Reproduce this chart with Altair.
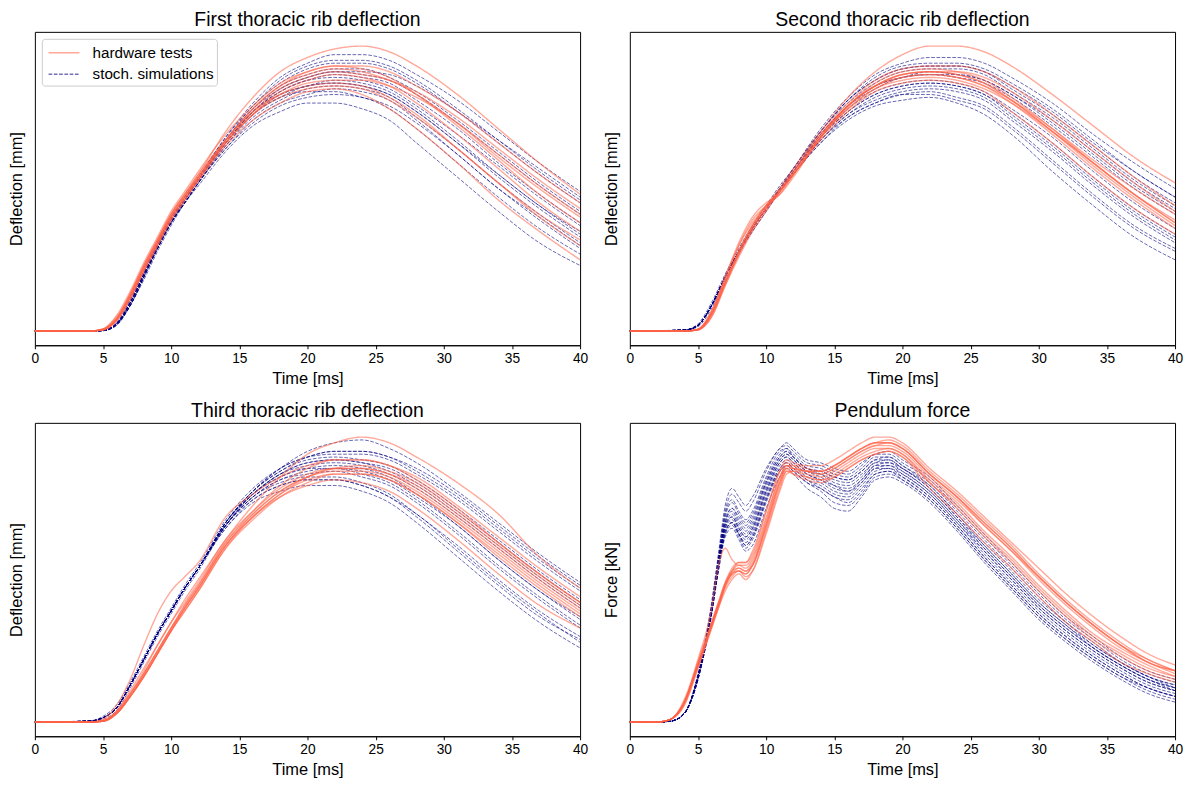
import altair as alt
import pandas as pd

# ---------------- data ----------------
GROUPS = ["hardware tests", "stoch. simulations"]

T_DEFL = [0, 4, 5, 6, 7, 8, 9, 10, 11, 12, 14, 16, 18, 20, 22, 24, 26, 28, 31, 34, 37, 40]
T_FORCE = [0, 2, 3, 4, 5, 6, 6.5, 7, 7.5, 8, 8.5, 9, 10, 11, 11.5, 12, 13, 14, 15, 16,
           17, 18, 19, 20, 22, 24, 26, 28, 30, 32, 34, 36, 38, 40]

P1_HW = [
    [0, 0, 0.6, 4.5, 13, 23, 32, 41, 48, 55, 70, 82, 91, 96, 99, 100, 98, 93, 83, 71, 59, 48],
    [0, 0, 0.5, 4, 12, 22, 31, 40, 47, 54, 67, 78, 86, 91, 93, 93, 91, 86, 77, 66, 55, 45],
    [0, 0, 0.5, 4, 12, 21, 30, 39, 46, 53, 66, 76, 84, 88, 90, 89, 86, 80, 69, 57, 45, 35],
    [0, 0, 0.7, 5, 13, 23, 32, 41, 48, 55, 67, 77, 83, 86, 87, 86, 82, 76, 64, 52, 40, 30],
    [0, 0, 0.5, 4, 12, 22, 31, 40, 47, 53, 65, 74, 80, 84, 85, 83, 78, 71, 59, 46, 35, 25],
    [0, 0, 0.4, 3.5, 11, 21, 30, 39, 46, 53, 66, 76, 83, 87, 88, 88, 86, 82, 73, 62, 51, 41],
    [0, 0, 0.8, 5.5, 14, 24, 33, 42, 49, 56, 69, 79, 87, 91, 93, 92, 89, 83, 72, 60, 48, 38],
    [0, 0, 0.5, 4, 12, 22, 31, 40, 47, 54, 67, 78, 86, 90, 92, 91, 88, 84, 75, 64, 53, 43],
    [0, 0, 0.6, 4.5, 13, 23, 32, 41, 48, 54, 67, 77, 85, 89, 91, 90, 88, 83, 73, 61, 50, 40],
    [0, 0, 0.5, 4, 12, 22, 31, 40, 47, 54, 66, 76, 82, 85, 86, 85, 81, 75, 64, 52, 41, 32],
]
P1_SIM = [
    [0, 0, 0.2, 2.5, 10, 20, 30, 39, 47, 54, 68, 80, 89, 94, 97, 97, 95, 90, 81, 70, 59, 49],
    [0, 0, 0.2, 2.8, 11, 21, 31, 40, 47, 54, 68, 79, 88, 93, 95, 95, 93, 88, 78, 67, 56, 46],
    [0, 0, 0.2, 2.5, 10, 20, 30, 39, 46, 53, 67, 78, 86, 90, 92, 92, 89, 84, 74, 63, 52, 42],
    [0, 0, 0.1, 2.2, 9, 19, 29, 38, 46, 53, 66, 77, 84, 88, 90, 89, 87, 81, 71, 59, 48, 38],
    [0, 0, 0.2, 2.5, 10, 20, 30, 38, 46, 53, 66, 76, 83, 86, 88, 87, 84, 78, 67, 55, 44, 34],
    [0, 0, 0.2, 2.5, 10, 20, 29, 38, 45, 52, 65, 75, 81, 85, 86, 85, 82, 75, 64, 52, 41, 31],
    [0, 0, 0.2, 2.5, 9, 19, 29, 38, 45, 52, 64, 73, 79, 82, 83, 82, 78, 71, 59, 47, 36, 27],
    [0, 0, 0.2, 2.5, 9, 19, 29, 38, 45, 51, 63, 72, 77, 80, 80, 78, 74, 66, 54, 42, 31, 23],
    [0, 0, 0.1, 2, 9, 19, 29, 38, 46, 53, 67, 78, 85, 89, 91, 91, 90, 86, 77, 67, 57, 47],
    [0, 0, 0.1, 2, 9, 18, 28, 37, 45, 52, 66, 77, 84, 88, 89, 88, 85, 79, 69, 58, 47, 37],
    [0, 0, 0.3, 3, 11, 21, 31, 40, 47, 54, 67, 77, 83, 86, 87, 86, 83, 77, 66, 55, 44, 35],
    [0, 0, 0.2, 2.5, 10, 20, 30, 39, 46, 53, 66, 76, 82, 84, 84, 82, 79, 73, 62, 50, 40, 30],
    [0, 0, 0.2, 2.5, 10, 20, 30, 39, 46, 53, 67, 79, 87, 92, 94, 94, 92, 87, 77, 66, 55, 45],
    [0, 0, 0.2, 2.5, 10, 20, 30, 39, 46, 53, 66, 77, 85, 89, 91, 90, 88, 83, 73, 62, 51, 41],
    [0, 0, 0.2, 2.5, 10, 20, 30, 38, 45, 52, 65, 76, 82, 86, 87, 86, 83, 77, 66, 54, 43, 33],
    [0, 0, 0.2, 2.5, 9, 19, 29, 38, 45, 52, 64, 74, 80, 83, 85, 84, 81, 74, 62, 50, 39, 29],
]

P2_HW = [
    [0, 0, 0.5, 6, 17, 27, 36, 43, 50, 57, 70, 82, 91, 97, 100, 100, 98, 93, 83, 72, 61, 52],
    [0, 0, 0.6, 7, 19, 31, 40, 45, 48, 54, 68, 79, 87, 91, 92, 91, 88, 82, 71, 59, 48, 39],
    [0, 0, 0.6, 7, 18, 30, 39, 44, 48, 55, 68, 78, 85, 89, 90, 89, 86, 80, 69, 57, 46, 36],
    [0, 0, 0.4, 5, 16, 27, 36, 43, 49, 55, 68, 79, 86, 90, 91, 90, 87, 81, 70, 59, 48, 38],
    [0, 0, 0.4, 5, 16, 26, 35, 42, 49, 55, 67, 77, 84, 87, 88, 87, 84, 77, 66, 54, 43, 34],
    [0, 0, 0.5, 6, 17, 27, 36, 43, 49, 56, 69, 80, 88, 92, 93, 93, 91, 86, 76, 65, 54, 44],
    [0, 0, 0.7, 7, 19, 30, 38, 44, 49, 55, 68, 79, 86, 90, 91, 90, 87, 81, 70, 58, 47, 37],
    [0, 0, 0.5, 6, 17, 28, 37, 44, 50, 56, 69, 79, 86, 89, 90, 89, 86, 81, 71, 60, 50, 41],
    [0, 0, 0.6, 6, 17, 28, 37, 44, 49, 55, 68, 78, 85, 88, 89, 88, 85, 80, 70, 59, 48, 38],
    [0, 0, 0.5, 6, 17, 28, 37, 43, 49, 55, 68, 79, 86, 90, 91, 91, 89, 84, 74, 63, 52, 42],
]
P2_SIM = [
    [0, 0.3, 2, 9, 19, 28, 36, 43, 50, 57, 71, 82, 90, 94, 96, 96, 94, 89, 80, 69, 59, 50],
    [0, 0.3, 2, 9, 19, 28, 36, 43, 50, 57, 70, 81, 89, 93, 94, 94, 92, 87, 78, 67, 56, 47],
    [0, 0.3, 2, 9, 19, 28, 36, 43, 50, 56, 70, 80, 87, 91, 92, 92, 90, 84, 75, 64, 53, 44],
    [0, 0.3, 2, 9, 19, 28, 36, 43, 50, 56, 69, 79, 85, 89, 90, 89, 87, 82, 72, 61, 50, 41],
    [0, 0.3, 2, 9, 19, 28, 36, 43, 49, 56, 68, 78, 84, 87, 88, 87, 84, 78, 68, 56, 45, 36],
    [0, 0.3, 2, 9, 19, 28, 36, 43, 49, 55, 67, 76, 82, 85, 86, 85, 82, 75, 64, 52, 41, 32],
    [0, 0.3, 2, 9, 19, 28, 36, 43, 49, 55, 66, 75, 80, 83, 84, 82, 79, 72, 60, 48, 37, 29],
    [0, 0.3, 2, 9, 19, 28, 35, 42, 49, 55, 66, 74, 79, 81, 82, 80, 76, 69, 56, 44, 33, 25],
    [0, 0.4, 2.5, 10, 20, 29, 37, 44, 51, 57, 70, 81, 88, 92, 93, 93, 91, 86, 77, 66, 56, 47],
    [0, 0.2, 1.5, 8, 18, 27, 35, 42, 49, 56, 69, 79, 86, 89, 90, 90, 88, 83, 74, 63, 52, 43],
    [0, 0.3, 2, 9, 19, 28, 36, 43, 50, 56, 68, 77, 83, 86, 87, 86, 83, 77, 66, 54, 43, 34],
    [0, 0.3, 2, 9, 19, 28, 36, 43, 49, 55, 67, 76, 81, 84, 85, 84, 81, 74, 63, 51, 40, 31],
    [0, 0.3, 2, 9, 19, 28, 36, 43, 50, 57, 70, 81, 88, 92, 93, 93, 91, 85, 76, 65, 54, 45],
    [0, 0.3, 2, 9, 19, 28, 36, 43, 50, 56, 69, 79, 86, 89, 91, 90, 88, 83, 73, 62, 51, 42],
    [0, 0.3, 2, 9, 19, 28, 36, 43, 49, 55, 68, 77, 83, 86, 87, 86, 83, 76, 65, 53, 42, 33],
    [0, 0.3, 2, 9, 19, 28, 36, 43, 49, 55, 67, 75, 80, 83, 83, 81, 78, 71, 59, 47, 36, 28],
]

P3_HW = [
    [0, 0, 0.5, 3.5, 10, 18, 27, 35, 43, 50, 64, 76, 86, 94, 98, 100, 98, 93, 84, 73, 58, 47],
    [0, 0, 1, 6, 15, 27, 38, 46, 51, 56, 72, 80, 86, 90, 92, 92, 90, 85, 75, 63, 52, 42],
    [0, 0, 0.3, 3, 9, 16, 24, 32, 40, 47, 62, 72, 80, 86, 89, 90, 88, 84, 74, 63, 52, 42],
    [0, 0, 0.3, 3, 9, 16, 24, 32, 39, 46, 61, 71, 79, 84, 87, 87, 85, 80, 70, 58, 47, 37],
    [0, 0, 0.3, 3, 9, 17, 25, 33, 40, 47, 62, 72, 79, 83, 85, 84, 81, 75, 64, 52, 41, 33],
    [0, 0, 0.4, 3.5, 10, 17, 25, 33, 41, 48, 63, 74, 83, 89, 92, 92, 90, 86, 76, 65, 54, 44],
    [0, 0, 0.6, 4, 11, 19, 27, 35, 42, 49, 64, 74, 82, 87, 89, 89, 87, 82, 72, 61, 50, 40],
    [0, 0, 0.3, 3, 9, 16, 24, 32, 40, 47, 62, 73, 81, 86, 88, 88, 86, 81, 71, 60, 49, 39],
    [0, 0, 0.4, 3.5, 10, 17, 25, 33, 41, 48, 63, 73, 81, 86, 89, 89, 87, 83, 73, 62, 51, 41],
    [0, 0, 0.3, 3, 9, 16, 24, 32, 39, 46, 61, 72, 80, 85, 87, 87, 85, 80, 70, 59, 48, 38],
]
P3_SIM = [
    [0, 0.3, 1.5, 5, 13, 22, 31, 39, 47, 54, 70, 81, 89, 95, 98, 99, 96, 91, 81, 70, 59, 49],
    [0, 0.3, 1.5, 5, 13, 22, 31, 39, 47, 54, 70, 81, 89, 93, 95, 95, 93, 88, 79, 68, 57, 47],
    [0, 0.3, 1.5, 5, 13, 22, 31, 39, 47, 54, 70, 81, 88, 92, 93, 92, 90, 85, 75, 64, 53, 43],
    [0, 0.3, 1.5, 5, 13, 22, 31, 39, 47, 54, 70, 80, 87, 90, 91, 90, 87, 82, 72, 61, 50, 40],
    [0, 0.3, 1.5, 5, 13, 22, 31, 39, 47, 54, 69, 80, 86, 89, 90, 89, 86, 80, 69, 57, 46, 37],
    [0, 0.3, 1.5, 5, 13, 22, 31, 39, 47, 54, 69, 79, 85, 87, 88, 86, 83, 77, 66, 54, 43, 33],
    [0, 0.3, 1.5, 5, 13, 22, 31, 39, 47, 54, 69, 78, 83, 85, 85, 83, 79, 72, 60, 48, 37, 29],
    [0, 0.3, 1.5, 5, 13, 22, 31, 39, 47, 54, 68, 77, 81, 83, 83, 81, 77, 70, 58, 46, 35, 26],
    [0, 0.4, 2, 6, 14, 23, 32, 40, 48, 55, 71, 82, 89, 93, 94, 94, 92, 87, 78, 67, 56, 46],
    [0, 0.2, 1, 4, 12, 21, 30, 38, 46, 53, 69, 80, 87, 91, 92, 91, 89, 84, 74, 63, 52, 42],
    [0, 0.3, 1.5, 5, 13, 22, 31, 39, 47, 54, 70, 80, 86, 89, 89, 88, 85, 79, 69, 57, 46, 36],
    [0, 0.3, 1.5, 5, 13, 22, 31, 39, 47, 54, 69, 79, 84, 86, 86, 84, 80, 73, 62, 50, 39, 30],
    [0, 0.3, 1.5, 5, 13, 22, 31, 39, 47, 54, 70, 81, 88, 93, 95, 95, 93, 89, 80, 69, 58, 48],
    [0, 0.3, 1.5, 5, 13, 22, 31, 39, 47, 54, 70, 80, 87, 91, 92, 91, 88, 83, 73, 62, 51, 41],
    [0, 0.3, 1.5, 5, 13, 22, 31, 39, 47, 54, 69, 79, 85, 88, 89, 87, 84, 78, 67, 55, 44, 34],
    [0, 0.3, 1.5, 5, 13, 22, 31, 39, 47, 54, 68, 78, 83, 85, 85, 83, 79, 73, 61, 49, 38, 28],
]

P4_HW = [
    [0, 0, 1, 7, 21, 35, 42, 49, 54, 56, 56, 59, 74, 88, 92, 91, 90, 90, 92, 95, 98, 100, 100, 98, 89, 81, 72, 63, 54, 45, 37, 30, 24, 20],
    [0, 0, 1, 8, 22, 40, 55, 61, 57, 55, 55, 58, 72, 86, 90, 89, 88, 87, 89, 92, 95, 97, 98, 96, 87, 79, 70, 61, 51, 42, 34, 27, 21, 18],
    [0, 0, 1, 6, 19, 33, 40, 47, 51, 53, 52, 55, 69, 84, 89, 89, 88, 87, 89, 92, 95, 97, 97, 95, 86, 78, 69, 60, 51, 42, 34, 27, 21, 18],
    [0, 0, 1, 7, 20, 34, 41, 48, 52, 53, 51, 53, 66, 81, 87, 88, 86, 85, 86, 89, 92, 94, 95, 93, 84, 75, 65, 56, 46, 37, 29, 23, 18, 15],
    [0, 0, 1, 7, 21, 35, 42, 49, 53, 54, 53, 55, 69, 84, 89, 87, 85, 84, 86, 89, 92, 94, 95, 93, 82, 73, 63, 54, 44, 35, 28, 21, 17, 14],
    [0, 0, 1, 7, 20, 34, 41, 48, 53, 56, 56, 60, 74, 88, 91, 90, 88, 88, 90, 93, 96, 98, 98, 96, 87, 79, 69, 60, 50, 41, 33, 26, 21, 17],
    [0, 0, 1, 7, 20, 34, 41, 48, 52, 54, 53, 56, 70, 85, 90, 89, 88, 88, 90, 93, 96, 98, 99, 97, 88, 80, 71, 62, 52, 43, 35, 28, 22, 18],
    [0, 0, 1, 6, 19, 33, 40, 46, 50, 52, 50, 53, 67, 82, 88, 88, 87, 86, 88, 91, 94, 96, 96, 94, 84, 76, 66, 57, 47, 38, 30, 24, 19, 16],
    [0, 0, 1, 7, 20, 34, 41, 48, 53, 55, 54, 57, 71, 86, 90, 90, 89, 88, 90, 93, 96, 98, 98, 96, 87, 79, 70, 61, 51, 42, 34, 27, 22, 18],
    [0, 0, 1, 7, 20, 34, 41, 48, 52, 53, 52, 55, 68, 83, 88, 87, 86, 85, 87, 90, 93, 95, 96, 94, 85, 77, 67, 58, 48, 39, 31, 25, 20, 16],
]
P4_SIM = [
    [0, 0, 0.3, 3, 16, 41, 58, 74, 80, 77, 74, 77, 88, 96, 97, 95, 91, 90, 88, 87, 90, 94, 94, 91, 85, 75, 65, 55, 45, 36, 29, 22, 17, 14],
    [0, 0, 0.3, 3, 16, 40, 57, 72, 77, 73, 70, 73, 85, 94, 96, 93, 89, 88, 86, 85, 88, 92, 93, 90, 83, 73, 63, 53, 43, 35, 27, 21, 16, 13],
    [0, 0, 0.3, 3, 16, 40, 56, 70, 74, 70, 67, 70, 83, 92, 94, 92, 88, 87, 85, 84, 87, 91, 92, 89, 82, 72, 62, 52, 42, 34, 26, 20, 15, 12],
    [0, 0, 0.3, 3, 16, 39, 55, 69, 72, 68, 65, 68, 81, 91, 93, 91, 87, 85, 83, 82, 85, 90, 90, 88, 81, 71, 60, 50, 40, 32, 25, 19, 14, 11],
    [0, 0, 0.3, 3, 16, 39, 55, 68, 71, 67, 64, 67, 80, 90, 92, 90, 86, 84, 81, 80, 84, 89, 89, 87, 80, 70, 59, 49, 39, 31, 24, 18, 13, 10],
    [0, 0, 0.3, 3, 15, 39, 54, 67, 70, 66, 62, 65, 78, 89, 91, 89, 85, 82, 79, 78, 82, 87, 88, 86, 79, 69, 58, 48, 38, 30, 23, 17, 12, 9],
    [0, 0, 0.3, 3, 15, 38, 54, 66, 69, 65, 61, 64, 77, 88, 90, 88, 84, 81, 77, 76, 80, 86, 87, 85, 78, 68, 57, 47, 37, 29, 22, 16, 11, 8],
    [0, 0, 0.3, 3, 15, 38, 53, 65, 68, 64, 60, 62, 75, 86, 89, 87, 82, 79, 75, 74, 79, 85, 86, 84, 77, 67, 56, 46, 36, 28, 21, 15, 10, 7],
    [0, 0, 0.3, 3, 17, 42, 59, 76, 82, 79, 76, 79, 89, 96, 98, 96, 92, 91, 89, 88, 91, 94, 95, 92, 86, 76, 66, 56, 46, 37, 30, 23, 18, 15],
    [0, 0, 0.3, 3, 16, 40, 56, 71, 75, 71, 68, 71, 84, 93, 95, 93, 89, 87, 84, 83, 86, 91, 91, 89, 82, 72, 61, 51, 41, 33, 26, 20, 15, 12],
    [0, 0, 0.3, 3, 16, 39, 55, 69, 73, 69, 66, 69, 82, 92, 94, 92, 88, 86, 83, 81, 85, 90, 91, 88, 81, 71, 61, 51, 41, 33, 26, 20, 15, 11],
    [0, 0, 0.3, 3, 15, 38, 53, 66, 70, 66, 63, 66, 79, 89, 91, 89, 85, 83, 80, 79, 83, 88, 89, 86, 79, 69, 58, 48, 38, 30, 23, 17, 12, 9],
    [0, 0, 0.3, 3, 16, 40, 57, 73, 78, 74, 71, 74, 86, 95, 96, 94, 90, 89, 87, 86, 89, 93, 93, 90, 84, 74, 64, 54, 44, 35, 28, 21, 16, 13],
    [0, 0, 0.3, 3, 16, 39, 55, 68, 72, 68, 65, 68, 81, 91, 93, 91, 87, 85, 82, 81, 84, 89, 90, 87, 80, 70, 60, 50, 40, 32, 25, 19, 14, 11],
    [0, 0, 0.3, 3, 15, 38, 54, 67, 70, 66, 62, 65, 78, 88, 90, 88, 84, 82, 79, 77, 81, 87, 88, 85, 78, 68, 57, 47, 37, 29, 22, 16, 12, 9],
    [0, 0, 0.3, 3, 16, 40, 56, 70, 75, 72, 69, 72, 84, 93, 95, 93, 89, 88, 86, 85, 88, 92, 92, 89, 83, 73, 62, 52, 42, 34, 27, 21, 16, 12],
]

PANEL_TITLES = ["First thoracic rib deflection", "Second thoracic rib deflection",
                "Third thoracic rib deflection", "Pendulum force"]
Y_TITLES = ["Deflection [mm]", "Deflection [mm]", "Deflection [mm]", "Force [kN]"]

# ---------------- build tables ----------------
def table(curves, times, group):
    rows = []
    for i, c in enumerate(curves):
        assert len(c) == len(times), (group, i, len(c))
        for t, v in zip(times, c):
            rows.append({"t": t, "v": v, "group": group, "run": f"{group}-{i}"})
    return pd.DataFrame(rows)

PANEL_DATA = [
    (P1_HW, P1_SIM, T_DEFL),
    (P2_HW, P2_SIM, T_DEFL),
    (P3_HW, P3_SIM, T_DEFL),
    (P4_HW, P4_SIM, T_FORCE),
]

FONT = "Liberation Sans"
W, H = 548, 315

legend = alt.Legend(
    title=None, orient="top-left", offset=7, padding=3, rowPadding=1.6,
    fillColor="rgba(255,255,255,0.8)", strokeColor="#cccccc", cornerRadius=3,
    labelFontSize=15.3, labelFont=FONT, labelColor="black",
    symbolType="M-0.7,0L2.3,0", symbolSize=427, symbolStrokeWidth=1.3,
    symbolOpacity=0.55, labelOffset=26,
)


def make_panel(idx):
    hw, sim, times = PANEL_DATA[idx]
    dh = table(hw, times, GROUPS[0])
    ds = table(sim, times, GROUPS[1])
    leg = legend if idx == 0 else None
    color = alt.Color("group:N", scale=alt.Scale(domain=GROUPS, range=["#FF6347", "#000080"]),
                      legend=leg)
    dash = alt.StrokeDash("group:N", scale=alt.Scale(domain=GROUPS, range=[[1, 0], [3.7, 1.6]]),
                          legend=leg)
    x = alt.X("t:Q", scale=alt.Scale(domain=[0, 40], nice=False, zero=False),
              axis=alt.Axis(values=list(range(0, 41, 5)), title="Time [ms]", labelFontSize=13.8,
                            titleFontSize=16.5, tickSize=3.5, labelPadding=3, titlePadding=5,
                            labelFlush=False, grid=False))
    y = alt.Y("v:Q", scale=alt.Scale(domain=[-5, 105], nice=False, zero=False),
              axis=alt.Axis(labels=False, ticks=False, domain=False, grid=False,
                            title=Y_TITLES[idx], titleFontSize=16.5, titlePadding=10))
    s_layer = alt.Chart(ds).mark_line(strokeWidth=1.0, opacity=0.6, interpolate="monotone").encode(
        x=x, y=y, color=color, strokeDash=dash, detail="run:N")
    h_layer = alt.Chart(dh).mark_line(strokeWidth=1.4, opacity=0.55, interpolate="monotone").encode(
        x=x, y=y, color=color, strokeDash=dash, detail="run:N")
    return alt.layer(s_layer, h_layer).properties(
        width=W, height=H,
        title=alt.TitleParams(PANEL_TITLES[idx], fontSize=19.5, fontWeight="normal", font=FONT,
                              color="black", offset=1))


chart = alt.concat(*[make_panel(i) for i in range(4)], columns=2,
                   spacing={"row": 13, "column": 14})
chart = chart.resolve_scale(color="independent", strokeDash="independent").resolve_legend(
    color="independent", strokeDash="independent")
chart = chart.properties(padding={"left": 0, "top": 0, "right": 0, "bottom": 0}).configure_view(
    stroke="black", strokeWidth=1).configure_axis(
    labelFont=FONT, titleFont=FONT, labelColor="black", titleColor="black",
    domainColor="black", tickColor="black", titleFontWeight="normal", domainWidth=1, tickWidth=1)

chart.save("out.html", embed_options={"renderer": "svg", "actions": False})
